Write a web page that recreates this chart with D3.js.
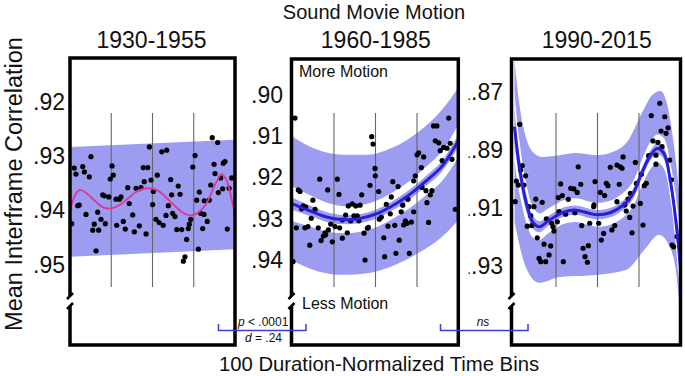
<!DOCTYPE html>
<html><head><meta charset="utf-8">
<script src="https://cdn.jsdelivr.net/npm/d3@7"></script>
<style>body{margin:0;background:#fff;} svg{display:block;}</style>
</head><body><svg id="c" width="685" height="376"></svg>
<script>
// ---------------- DATA ----------------
const mainTitle = "Sound Movie Motion";
const panelTitles = ["1930-1955", "1960-1985", "1990-2015"];
const yTitle = "Mean Interframe Correlation";
const xTitle = "100 Duration-Normalized Time Bins";
const p1Ticks = [0.92, 0.93, 0.94, 0.95];
const p2Ticks = [0.90, 0.91, 0.92, 0.93, 0.94];
const p3Ticks = [0.87, 0.89, 0.91, 0.93];
const gridBins = [25, 50, 75];

// Panel 1 (1930-1955): [bin, mean interframe correlation]
const p1Points = [[12.7,.9301],[2.6,.9322],[7.7,.9319],[8.7,.9329],[3.6,.9333],[11.7,.9338],[25.5,.9318],[24.4,.9342],[26.2,.9335],[19.8,.9371],[20.8,.9373],[23.5,.9375],[27.9,.9379],[29.9,.9379],[5.6,.9390],[4.7,.9391],[9.7,.9407],[16.8,.9403],[18.8,.9416],[14.7,.9425],[21.4,.9424],[13.8,.9436],[17.4,.9436],[1.0,.9424],[15.8,.9474],[28.3,.9427],[32.3,.9420],[33.5,.9434],[38.0,.9408],[39.0,.9439],[42.0,.9428],[46.1,.9443],[35.9,.9387],[30.9,.9375],[35.0,.9358],[40.0,.9359],[43.0,.9358],[47.1,.9321],[44.4,.9321],[45.0,.9347],[48.1,.9283],[49.1,.9344],[50.1,.9389],
[86.2,.9266],[89.5,.9275],[55.6,.9292],[58.6,.9289],[75.8,.9299],[74.4,.9320],[52.9,.9335],[61.0,.9343],[65.6,.9355],[61.6,.9371],[66.7,.9370],[50.5,.9365],[59.6,.9391],[62.2,.9405],[63.6,.9411],[58.2,.9409],[52.1,.9416],[54.1,.9422],[56.5,.9427],[64.7,.9435],[67.7,.9435],[72.3,.9425],[71.7,.9433],[73.2,.9416],[70.7,.9453],[69.7,.9485],[68.7,.9493],[77.8,.9471],[80.4,.9433],[83.2,.9420],[79.2,.9405],[81.2,.9407],[76.8,.9381],[81.4,.9382],[84.4,.9381],[78.4,.9366],[85.3,.9353],[87.9,.9332],[87.3,.9315],[93.9,.9310],[92.9,.9313],[91.3,.9340],[92.5,.9360],[89.9,.9367],[96.4,.9359],[98.0,.9340],[95.3,.9434]];
const p1BandBins = [0, 100];
const p1BandTop = [0.9283, 0.9270];
const p1BandBottom = [0.9485, 0.9471];
const p1CurveBins = [0,3,6,10,15,20,25,30,35,40,47,53,58,63,68,73,78,83,88,92,95,98,100];
const p1CurveVals = [.9402,.9372,.9362,.9368,.9382,.9394,.9396,.9390,.9378,.9366,.9359,.9363,.9375,.9390,.9403,.9409,.9403,.9385,.9352,.9333,.9345,.9380,.9405];

// Panel 2 (1960-1985)
const p2Points = [[1.5,.9056],[47.7,.9101],[48.5,.9119],[49.7,.9178],[16.4,.9204],[27,.9204],[3.5,.9230],[4.5,.9234],[21.2,.9230],[28,.9241],[46.7,.9219],[41.7,.9242],[12.3,.9255],[6.5,.9269],[8,.9272],[5.5,.9276],[13.6,.9277],[33.6,.9269],[36,.9264],[38.1,.9269],[40.7,.9267],[32,.9291],[37,.9293],[39,.9293],[35,.9305],[30,.9303],[40,.9305],[11.3,.9299],[23,.9313],[25.6,.9319],[28.4,.9322],[2.3,.9322],[7.5,.9322],[9.3,.9319],[15.5,.9322],[21.6,.9327],[19.6,.9334],[18.6,.9342],[20,.9339],[17.2,.9353],[24,.9356],[10.4,.9364],[30,.9347],[33,.9334],[43.1,.9335],[45.1,.9323],[45.7,.9321],[43.7,.9400],[0.3,.9404],
[94.1,.9056],[85,.9075],[87,.9075],[86,.9111],[88.1,.9116],[91.1,.9127],[93.1,.9129],[95,.9117],[89,.9135],[96.1,.9156],[90.1,.9159],[76,.9140],[75,.9145],[79,.9150],[77.6,.9176],[74,.9196],[73,.9208],[49.9,.9196],[60.4,.9210],[63.6,.9222],[78,.9224],[80.4,.9232],[84,.9232],[83,.9242],[81,.9261],[51.9,.9234],[59.5,.9247],[69.6,.9253],[56.5,.9265],[66.4,.9267],[65.5,.9283],[73,.9283],[58.9,.9288],[53.5,.9296],[52.3,.9301],[68,.9305],[69,.9311],[71.6,.9308],[57.5,.9318],[61.6,.9316],[67,.9315],[82,.9309],[55,.9346],[64.3,.9352],[55.5,.9392],[62.3,.9384],[70.4,.9384],[98.1,.9277]];
const p2LineBins = [0,10,20,30,40,50,60,70,80,90,100];
const p2LineVals = [.9264,.9280,.9295,.9302,.9300,.9289,.9269,.9243,.9210,.9173,.9110];
const p2CiHalf = [.0015,.0013,.0012,.0011,.0011,.0011,.0011,.0012,.0012,.0013,.0015];
const p2HaloHalf = [.0042,.0038,.0035,.0033,.0032,.0032,.0032,.0033,.0034,.0036,.0040];
const p2BandBins = [0,15,30,45,60,75,90,100];
const p2BandTop = [.9101,.9133,.9145,.9145,.9128,.9092,.9036,.8981];
const p2BandBottom = [.9402,.9427,.9436,.9432,.9415,.9385,.9344,.9303];

// Panel 3 (1990-2015)
const p3Points = [[3.1,.8812],[4.7,.8954],[3.7,.8969],[6.7,.8989],[1.1,.9007],[2.3,.9021],[5.7,.9021],[0.4,.9078],[12.8,.9069],[16.7,.9080],[8.7,.9095],[11.7,.9095],[9.8,.9126],[7.7,.9162],[10.4,.9160],[19.2,.9137],[22.4,.9152],[23.8,.9179],[13.7,.9202],[17.8,.9224],[21.8,.9230],[20.8,.9261],[14.8,.9273],[15.8,.9284],[18.8,.9284],[29.4,.9284],[26.8,.9112],[30.8,.9121],[36.4,.9116],[25.8,.9147],[23.2,.9164],[26.4,.9064],[28.8,.9057],[32.4,.9070],[27.8,.9017],[33.9,.9032],[35.8,.9034],[37.8,.9046],[39.9,.9018],[38.4,.8958],[48.5,.9009],[40.5,.9160],[45.3,.9152],[41.3,.9238],[44.5,.9229],[42.5,.9267],[43.9,.9286],[47.9,.9089],
[87.5,.8740],[82.4,.8782],[90.5,.8786],[88.3,.8835],[91.3,.8843],[92.5,.8824],[83.4,.8869],[86.4,.8874],[88.9,.8889],[80.8,.8920],[85.2,.8918],[93.5,.8935],[85.2,.8949],[94.5,.9003],[79.4,.9015],[78.2,.9023],[76.4,.8984],[72.8,.8943],[65.4,.8924],[61.7,.8952],[63.7,.8958],[64.8,.8963],[57.7,.8960],[55.3,.9015],[56.3,.9023],[63.1,.9018],[51.7,.9046],[54.3,.9057],[73.4,.9015],[69.8,.9049],[61.7,.9078],[66.4,.9089],[68.4,.9069],[75.8,.9084],[71.4,.9093],[67.3,.9110],[69.4,.9132],[47.7,.9095],[50.7,.9152],[53.7,.9187],[52.3,.9210],[58.7,.9175],[60.4,.9160],[70.8,.9185],[77.4,.9158],[94.9,.9227],[95.9,.9233],[97.9,.9198]];
const p3LineBins = [0,3,7,11,15,20,25,30,37,45,50,58,65,71,77,82,86,90,94,97,100];
const p3LineVals = [.8820,.8960,.9080,.9148,.9164,.9145,.9127,.9113,.9107,.9118,.9123,.9115,.9092,.9055,.8975,.8918,.8895,.8912,.9010,.9135,.9300];
const p3CiHalf = [.0060,.0042,.0030,.0022,.0019,.0017,.0016,.0016,.0016,.0016,.0016,.0016,.0016,.0017,.0017,.0017,.0018,.0020,.0026,.0038,.0060];
const p3HaloHalf = [.0120,.0090,.0068,.0053,.0046,.0043,.0041,.0041,.0041,.0041,.0041,.0041,.0042,.0043,.0045,.0047,.0048,.0052,.0062,.0085,.0120];
const p3TopBins = [0,3,7,11,17,27,37,49,59,69,77,83,88,92,96,100];
const p3TopVals = [.8591,.8746,.8859,.8907,.8924,.8918,.8911,.8918,.8907,.8863,.8770,.8711,.8698,.8746,.8883,.9089];
const p3BotBins = [0,7,15,27,49,67,79,87,93,97,100];
const p3BotVals = [.9147,.9306,.9357,.9337,.9330,.9313,.9238,.9192,.9227,.9307,.9460];

// ---------------- DRAW ----------------
const FONT = '"Liberation Sans", Arial, Helvetica, sans-serif';
const BAND = "#9c9cf0", LINE = "#2a1ed8", PINK = "#e2359c";
const svg = d3.select("#c").style("font-family", FONT);
svg.append("rect").attr("width",685).attr("height",376).attr("fill","#fff");

const zip = (b, v) => b.map((d, i) => [d, v[i]]);

const panels = [
  {title: panelTitles[0], box:[70,58,235,345], xr:[70,235], ydom:[0.92,0.95], yr:[101.7,265], ticks:p1Ticks, tickX:65, titleX:151.5,
   pts:p1Points, top: zip(p1BandBins,p1BandTop), bot: zip(p1BandBins,p1BandBottom), curve: zip(p1CurveBins,p1CurveVals), curveColor: PINK, curveW: 1.8},
  {title: panelTitles[1], box:[291.5,59,458.3,345], xr:[292.5,458.5], ydom:[0.90,0.94], yr:[95,260], ticks:p2Ticks, tickX:283, titleX:375.8,
   pts:p2Points, top: zip(p2BandBins,p2BandTop), bot: zip(p2BandBins,p2BandBottom), curve: zip(p2LineBins,p2LineVals),
   ci: p2CiHalf, halo: p2HaloHalf, curveColor: LINE, curveW: 3},
  {title: panelTitles[2], box:[511.5,59,680.5,345], xr:[514.5,680.5], ydom:[0.87,0.93], yr:[91.7,266.3], ticks:p3Ticks, tickX:503, titleX:596.7,
   pts:p3Points, top: zip(p3TopBins,p3TopVals), bot: zip(p3BotBins,p3BotVals), curve: zip(p3LineBins,p3LineVals),
   ci: p3CiHalf, halo: p3HaloHalf, curveColor: LINE, curveW: 3, dotted: true}
];

function bandPath(x, y, topPts, botPts, curve) {
  const ln = d3.line().x(d => x(d[0])).y(d => y(d[1])).curve(curve);
  const a = ln(topPts);
  const b = ln(botPts.slice().reverse());
  return a + "L" + b.slice(1) + "Z";
}

panels.forEach((p, i) => {
  const x = d3.scaleLinear().domain([0, 100]).range(p.xr);
  const y = d3.scaleLinear().domain(p.ydom).range(p.yr);
  const [bx0, by0, bx1, by1] = p.box;
  const g = svg.append("g");
  const cid = "clip" + i;
  svg.append("clipPath").attr("id", cid).append("rect")
    .attr("x", bx0).attr("y", by0).attr("width", bx1 - bx0).attr("height", by1 - by0);
  const inner = g.append("g").attr("clip-path", `url(#${cid})`);

  // outer prediction band
  inner.append("path").attr("d", bandPath(x, y, p.top, p.bot, d3.curveMonotoneX)).attr("fill", BAND);

  if (p.ci) {
    const halo = p.curve.map((d, k) => [d[0], d[1] - p.halo[k], d[1] + p.halo[k]]);
    const ci = p.curve.map((d, k) => [d[0], d[1] - p.ci[k], d[1] + p.ci[k]]);
    const area = d3.area().x(d => x(d[0])).y0(d => y(d[1])).y1(d => y(d[2])).curve(d3.curveCatmullRom.alpha(0.5));
    inner.append("path").attr("d", area(halo)).attr("fill", "#fff");
    inner.append("path").attr("d", area(ci)).attr("fill", BAND);
  }

  // grid lines
  inner.selectAll("line.grid").data(gridBins).join("line")
    .attr("x1", d => x(d)).attr("x2", d => x(d)).attr("y1", 113).attr("y2", 287)
    .attr("stroke", "#666").attr("stroke-width", 1.1);

  // points
  inner.selectAll("circle").data(p.pts).join("circle")
    .attr("cx", d => x(d[0])).attr("cy", d => y(d[1])).attr("r", 2.6).attr("fill", "#000");

  // fitted curve
  inner.append("path").attr("d", d3.line().x(d => x(d[0])).y(d => y(d[1])).curve(d3.curveCatmullRom.alpha(0.5))(p.curve))
    .attr("fill", "none").attr("stroke", p.curveColor).attr("stroke-width", p.curveW);

  // box
  g.append("rect").attr("x", bx0).attr("y", by0).attr("width", bx1 - bx0).attr("height", by1 - by0)
    .attr("fill", "none").attr("stroke", "#000").attr("stroke-width", 3.5);
  // axis break
  g.append("rect").attr("x", bx0 - 3).attr("y", 296).attr("width", 6).attr("height", 10).attr("fill", "#fff");
  g.append("path").attr("d", `M${bx0-3},${299} L${bx0+3},${293} M${bx0-3},${309} L${bx0+3},${303}`)
    .attr("stroke", "#000").attr("stroke-width", 2.6).attr("fill", "none");

  // y tick labels
  const ax = g.append("g").attr("transform", `translate(${p.tickX},0)`)
    .call(d3.axisLeft(y).tickValues(p.ticks).tickSize(0).tickPadding(0)
      .tickFormat(d => d3.format(".2f")(d).replace(/^0/, "")));
  ax.select(".domain").remove();
  ax.selectAll("text").attr("font-size", 23).attr("fill", "#111").attr("font-family", FONT);
  if (p.dotted) {
    ax.selectAll("text").each(function(d) {
      const t = d3.select(this); const lab = t.text(); t.text(null);
      t.append("tspan").attr("font-size", 14).text(".");
      t.append("tspan").text(lab);
    });
  }

  // panel title
  svg.append("text").attr("x", p.titleX).attr("y", 48).attr("text-anchor", "middle")
    .attr("font-size", 23).attr("fill", "#111").text(p.title);
});

// main title and axis titles
svg.append("text").attr("x", 374).attr("y", 19).attr("text-anchor", "middle").attr("font-size", 20).attr("fill", "#111").text(mainTitle);
svg.append("text").attr("transform", "translate(22,184) rotate(-90)").attr("text-anchor", "middle")
  .attr("font-size", 23.5).attr("fill", "#111").text(yTitle);
svg.append("text").attr("x", 379).attr("y", 371).attr("text-anchor", "middle").attr("font-size", 20.3).attr("fill", "#111").text(xTitle);

// annotations
svg.append("text").attr("x", 299).attr("y", 77).attr("font-size", 16).attr("fill", "#111").text("More Motion");
svg.append("text").attr("x", 302).attr("y", 309).attr("font-size", 16).attr("fill", "#111").text("Less Motion");

const BR = "#3b3bd6";
svg.append("path").attr("d", "M218.5,324 V330.5 H306 V324").attr("fill", "none").attr("stroke", BR).attr("stroke-width", 1.5);
svg.append("path").attr("d", "M440.5,324 V330.5 H528 V324").attr("fill", "none").attr("stroke", BR).attr("stroke-width", 1.5);
const t1 = svg.append("text").attr("x", 238).attr("y", 326).attr("font-size", 12).attr("fill", "#111");
t1.append("tspan").attr("font-style", "italic").text("p");
t1.append("tspan").text(" < .0001");
const t2 = svg.append("text").attr("x", 245).attr("y", 342).attr("font-size", 12).attr("fill", "#111");
t2.append("tspan").attr("font-style", "italic").text("d");
t2.append("tspan").text(" = .24");
svg.append("text").attr("x", 483).attr("y", 326).attr("text-anchor", "middle").attr("font-size", 12)
  .attr("font-style", "italic").attr("fill", "#111").text("ns");
</script></body></html>
